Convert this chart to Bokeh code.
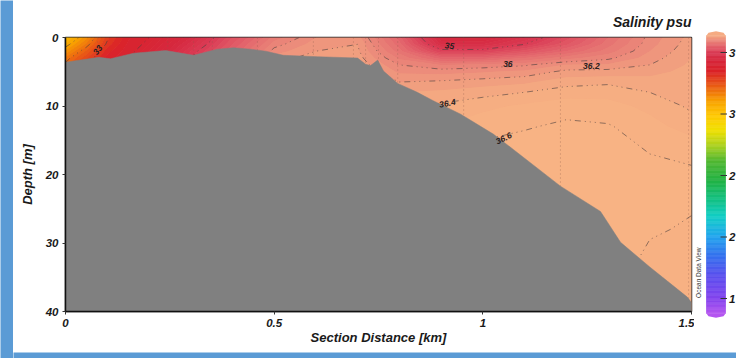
import numpy as np
from bokeh.plotting import figure
from bokeh.layouts import row, column
from bokeh.models import Range1d, FixedTicker
from bokeh.core.properties import value
from bokeh.embed import file_html
from bokeh.resources import INLINE

# ---------------- data ----------------
section_km = [0, 0.05, 0.1, 0.15, 0.2, 0.3, 0.4, 0.5, 0.6, 0.7, 0.8, 0.9, 1.0, 1.1, 1.2, 1.3, 1.4, 1.5]
depth_m = [0, 1, 2, 3, 4, 5, 6.5, 8, 10, 13, 17, 22, 28, 34, 40]

sal_000 = [30.3, 30.8, 31.3, 31.8, 32.1, 32.3, 32.5, 32.6, 32.7, 32.8, 32.9, 33.0, 33.0, 33.0, 33.0]
sal_005 = [31.4, 31.8, 32.3, 32.7, 33.0, 33.1, 33.2, 33.3, 33.4, 33.5, 33.5, 33.6, 33.6, 33.6, 33.6]
sal_010 = [32.9, 33.1, 33.4, 33.6, 33.8, 33.9, 34.0, 34.0, 34.1, 34.1, 34.2, 34.2, 34.2, 34.2, 34.2]
sal_015 = [33.7, 33.8, 33.9, 34.0, 34.1, 34.2, 34.3, 34.3, 34.4, 34.4, 34.4, 34.4, 34.4, 34.4, 34.4]
sal_020 = [34.0, 34.1, 34.2, 34.3, 34.4, 34.5, 34.6, 34.6, 34.7, 34.7, 34.7, 34.7, 34.7, 34.7, 34.7]
sal_030 = [34.6, 34.75, 34.9, 35.0, 35.1, 35.2, 35.3, 35.35, 35.4, 35.4, 35.4, 35.4, 35.4, 35.4, 35.4]
sal_040 = [35.3, 35.4, 35.5, 35.6, 35.7, 35.8, 35.9, 35.95, 36.0, 36.0, 36.0, 36.0, 36.0, 36.0, 36.0]
sal_050 = [35.85, 35.95, 36.05, 36.15, 36.2, 36.25, 36.3, 36.3, 36.3, 36.3, 36.3, 36.3, 36.3, 36.3, 36.3]
sal_060 = [36.1, 36.15, 36.2, 36.25, 36.3, 36.32, 36.35, 36.38, 36.4, 36.4, 36.4, 36.4, 36.4, 36.4, 36.4]
sal_070 = [36.15, 36.2, 36.22, 36.25, 36.28, 36.3, 36.35, 36.4, 36.45, 36.48, 36.5, 36.5, 36.5, 36.5, 36.5]
sal_080 = [35.55, 35.64, 35.75, 35.88, 36.0, 36.08, 36.2, 36.3, 36.38, 36.45, 36.5, 36.55, 36.55, 36.55, 36.55]
sal_090 = [34.5, 34.7, 35.1, 35.55, 35.9, 36.06, 36.22, 36.32, 36.42, 36.5, 36.55, 36.58, 36.58, 36.58, 36.58]
sal_100 = [34.45, 34.7, 35.1, 35.55, 35.93, 36.09, 36.25, 36.36, 36.47, 36.57, 36.63, 36.64, 36.64, 36.64, 36.64]
sal_110 = [34.8, 35.0, 35.35, 35.7, 35.98, 36.13, 36.28, 36.4, 36.52, 36.59, 36.66, 36.67, 36.67, 36.67, 36.67]
sal_120 = [35.25, 35.38, 35.6, 35.86, 36.11, 36.23, 36.36, 36.45, 36.56, 36.62, 36.67, 36.68, 36.68, 36.68, 36.68]
sal_130 = [35.7, 35.76, 35.85, 35.97, 36.12, 36.24, 36.38, 36.46, 36.54, 36.61, 36.67, 36.68, 36.66, 36.64, 36.64]
sal_140 = [36.04, 36.06, 36.1, 36.15, 36.2, 36.26, 36.35, 36.4, 36.47, 36.54, 36.6, 36.64, 36.61, 36.57, 36.56]
sal_150 = [36.24, 36.26, 36.28, 36.3, 36.32, 36.34, 36.36, 36.36, 36.38, 36.45, 36.59, 36.62, 36.59, 36.56, 36.55]

bathy_km = [0, 0.08, 0.108, 0.163, 0.24, 0.307, 0.364, 0.403, 0.443, 0.48, 0.522, 0.604, 0.70,
            0.719, 0.731, 0.748, 0.762, 0.796, 0.843, 0.88, 0.947, 1.025, 1.07, 1.186, 1.282,
            1.33, 1.40, 1.49, 1.5]
bathy_m = [3.6, 2.9, 3.1, 2.3, 1.9, 2.6, 1.7, 1.5, 1.7, 2.0, 2.6, 2.8, 3.0,
           3.9, 4.1, 3.3, 4.9, 6.7, 8.0, 9.2, 11.2, 14.1, 16.2, 21.7, 25.4,
           29.9, 33.5, 37.9, 38.7]

station_km = [0.077, 0.245, 0.307, 0.352, 0.46, 0.594, 0.69, 0.719, 0.75, 0.796, 0.954, 1.186, 1.493]

line_levels = [31, 32, 33, 34, 35, 36, 36.2, 36.4, 36.6]
label_text = ["33", "35", "36", "36.2", "36.4", "36.6"]
label_km = [0.077, 0.92, 1.06, 1.26, 0.915, 1.05]
label_m = [1.8, 1.2, 3.8, 4.1, 9.6, 14.7]
label_angle = [0.9, -0.1, 0.0, 0.0, 0.2, 0.45]

x_ticks = [0, 0.5, 1, 1.5]
x_tick_labels = ["0", "0.5", "1", "1.5"]
y_ticks = [0, 10, 20, 30, 40]
cbar_ticks = [15, 20, 25, 30, 35]
cbar_tick_labels = ["1", "2", "2", "3", "3"]   # only the first digit is visible in the window
cbar_low, cbar_high = 13.78, 36.38

# colour scale (ODV-like)
cmap_values = [13.8, 15.0, 16.9, 18.5, 20.1, 21.7, 23.0, 24.6, 26.2, 27.4, 28.7, 29.9, 31.1,
               32.3, 33.5, 34.5, 35.0, 35.5, 36.0, 36.2, 36.4, 36.8]
cmap_colors = ["#b455f0", "#8444ee", "#5a50ee", "#3572ee", "#22a6ee", "#12cec6", "#12c286",
               "#22b244", "#52b832", "#a8d022", "#f0e000", "#ffc800", "#f8a000", "#ea5c14",
               "#da2228", "#d6283e", "#da3a54", "#e2606a", "#eb887a", "#f09a7e", "#f6ad82", "#f9b785"]


def cmap(v):
    rgb = np.array([[int(c[i:i + 2], 16) for i in (1, 3, 5)] for c in cmap_colors], float)
    out = []
    for val in np.atleast_1d(v):
        r, g, b = (np.interp(val, cmap_values, rgb[:, k]) for k in range(3))
        out.append("#%02x%02x%02x" % (int(round(r)), int(round(g)), int(round(b))))
    return out


Z = np.array([sal_000, sal_005, sal_010, sal_015, sal_020, sal_030, sal_040, sal_050, sal_060,
              sal_070, sal_080, sal_090, sal_100, sal_110, sal_120, sal_130, sal_140, sal_150]).T

fill_levels = [25.0] + [round(v, 3) for v in np.arange(30.0, 34.0, 0.25)] + \
              [round(v, 3) for v in np.arange(34.0, 36.95, 0.1)] + [38.0]
band_colors = cmap([(a + b) / 2 for a, b in zip(fill_levels[:-1], fill_levels[1:])])

FONT = "Liberation Sans"
BLUE = "#5b9bd5"
H = 345

# ---------------- main section plot ----------------
p = figure(width=681, height=H, x_range=Range1d(0, 1.5), y_range=Range1d(40, 0),
           output_backend="svg", toolbar_location=None, frame_align=False,
           min_border_left=52, min_border_right=3, min_border_top=33, min_border_bottom=38,
           background_fill_color="#f2a480", border_fill_color="white",
           outline_line_color="#2a2a2a", outline_line_width=1.5)

for _ in range(2):   # drawn twice so that anti-aliasing seams between bands disappear
    fill_cr = p.contour(x=section_km, y=depth_m, z=Z, levels=fill_levels, fill_color=band_colors,
                        line_color=None)
    fill_cr.fill_renderer.glyph.line_color = fill_cr.fill_renderer.glyph.fill_color
    fill_cr.fill_renderer.glyph.line_width = 0.6
p.segment(x0=station_km, y0=[0] * len(station_km), x1=station_km, y1=[40] * len(station_km),
          line_color="#8a5a4a", line_alpha=0.5, line_dash="1 3", line_width=1)
p.contour(x=section_km, y=depth_m, z=Z, levels=line_levels, line_color="#4a4040",
          line_dash="6 4 1 4 1 4 1 4", line_width=1, line_alpha=0.6)
p.patch(x=bathy_km + [1.5, 0], y=bathy_m + [40, 40], fill_color="#808080", line_color="#808080",
        line_width=0.5)
p.text(x=label_km, y=label_m, text=label_text, angle=label_angle, text_font=value(FONT),
       text_font_size="8.5px", text_font_style="bold italic", text_color="#2a2020",
       text_align="center", text_baseline="middle")

p.grid.visible = False
p.title.text = "Salinity psu"
p.title.align = "right"
p.title.text_font = FONT
p.title.text_font_size = "14px"
p.title.text_font_style = "bold italic"
p.title.text_color = "#1a1a1a"
p.title.standoff = 15

p.xaxis.ticker = FixedTicker(ticks=x_ticks)
p.xaxis.major_label_overrides = {t: s for t, s in zip(x_ticks, x_tick_labels)}
p.yaxis.ticker = FixedTicker(ticks=y_ticks)
p.xaxis.axis_label = "Section Distance [km]"
p.yaxis.axis_label = "Depth [m]"
for ax in (p.xaxis[0], p.yaxis[0]):
    ax.axis_label_text_font = FONT
    ax.axis_label_text_font_size = "13px"
    ax.axis_label_text_font_style = "bold italic"
    ax.axis_label_text_color = "#1a1a1a"
    ax.major_label_text_font = FONT
    ax.major_label_text_font_size = "11.5px"
    ax.major_label_text_font_style = "bold italic"
    ax.major_label_text_color = "#1a1a1a"
    ax.axis_line_color = "#111111"
    ax.axis_line_width = 1.5
    ax.major_tick_line_color = "#333333"
    ax.major_tick_in = 0
    ax.major_tick_out = 3
    ax.minor_tick_line_color = None
p.xaxis.major_label_standoff = 4
p.xaxis.axis_label_standoff = 0
p.yaxis.major_label_standoff = 4
p.yaxis.axis_label_standoff = 8

# ---------------- colour bar (drawn from the same colour scale) ----------------
cb = figure(width=42, height=H, title=None, x_range=Range1d(0, 42),
            y_range=Range1d(15 - (H + 4 - 298) / 12.3, 35 + 48 / 12.3),
            output_backend="svg", toolbar_location=None, min_border=0, frame_align=False,
            x_axis_location=None, y_axis_location=None,
            outline_line_color=None, background_fill_color="white", border_fill_color="white")
cb.grid.visible = False
edges = np.linspace(cbar_low, cbar_high, 221)
steps = cmap((edges[:-1] + edges[1:]) / 2)
cb.quad(left=12, right=31, bottom=edges[:-1], top=edges[1:], fill_color=steps, line_color=steps,
        line_width=0.6)
cb.patch(x=[12, 14, 21.5, 29, 31], y=[cbar_high, cbar_high + 0.22, cbar_high + 0.34, cbar_high + 0.22, cbar_high],
         fill_color=cmap(cbar_high)[0], line_color=None)
cb.patch(x=[12, 14, 21.5, 29, 31], y=[cbar_low, cbar_low - 0.22, cbar_low - 0.34, cbar_low - 0.22, cbar_low],
         fill_color=cmap(cbar_low)[0], line_color=None)
cb.segment(x0=26, x1=32.5, y0=cbar_ticks, y1=cbar_ticks, line_color="#333333", line_width=1)
cb.text(x=34.5, y=cbar_ticks, text=cbar_tick_labels, text_font=value(FONT), text_font_size="11.5px",
        text_font_style="bold italic", text_color="#1a1a1a", text_align="left", text_baseline="middle")
cb.text(x=[3.5], y=[17.1], text=["Ocean Data View"], angle=np.pi / 2, text_font=value(FONT),
        text_font_size="6.5px", text_color="#333333", text_align="center", text_baseline="middle")


# ---------------- blue frame ----------------
def band(w, h):
    f = figure(width=w, height=h, title=None, output_backend="svg", toolbar_location=None, min_border=0,
               x_axis_location=None, y_axis_location=None, outline_line_color=None, frame_align=False,
               background_fill_color=BLUE, border_fill_color=BLUE)
    f.grid.visible = False
    return f


layout = row(band(13, 358), column(band(723, 4), row(p, cb), band(723, 358 - 4 - H)))

open("out.html", "w").write(file_html(layout, INLINE))
